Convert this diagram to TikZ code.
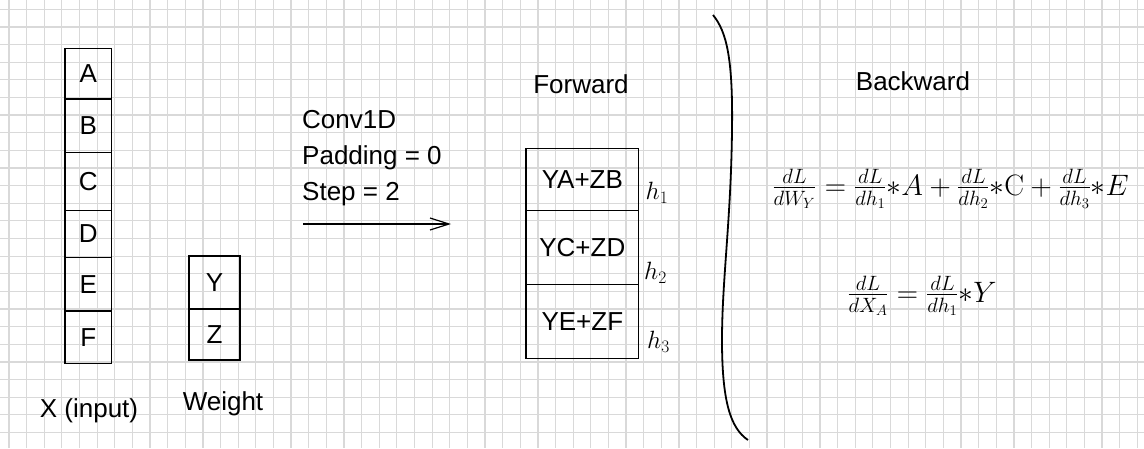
\RequirePackage{fix-cm}
\documentclass[tikz,border=0pt]{standalone}
\usepackage{amsmath}
\usepackage[no-math]{fontspec}
\setmainfont{Liberation Sans}
\DeclareMathSizes{29.5}{29.5}{20.7}{14.8}
\DeclareMathSizes{25}{25}{17.5}{12.5}
\usetikzlibrary{positioning,arrows.meta}

\begin{document}
\begin{tikzpicture}[x=1pt,y=-1pt,>={Straight Barb[length=19pt,width=12pt]},
  gridline/.style={gray!30,line width=1.2pt},
  cell/.style={draw,line width=1.4pt,inner sep=0pt,font=\fontsize{26}{31}\selectfont},
  txt/.style={font=\fontsize{26}{31}\selectfont,inner sep=0pt,anchor=base},
  hlab/.style={font=\fontsize{25}{30}\selectfont,inner sep=0pt},
  mth/.style={font=\fontsize{29.5}{35}\selectfont,inner sep=0pt}]
\useasboundingbox (0,0) rectangle (1144,448);
\fill[white] (0,0) rectangle (1144,448);
% grid paper
\foreach \i in {0,...,64}
  \draw[gridline] ({9+17.63*\i},0) -- ({9+17.63*\i},448);
\foreach \j in {0,...,24}
  \draw[gridline] (0,{9.3+17.63*\j}) -- (1144,{9.3+17.63*\j});

% input column
\node[cell,minimum width=46.7pt,minimum height=50.7pt] (xa) at (88.3,73.65) {A};
\node[cell,minimum width=46.7pt,minimum height=53.3pt] (xb) at (88.3,125.65) {B};
\node[cell,minimum width=46.7pt,minimum height=58pt] (xc) at (88.3,181.3) {C};
\node[cell,minimum width=46.7pt,minimum height=47.4pt] (xd) at (88.3,234) {D};
\node[cell,minimum width=46.7pt,minimum height=53.3pt] (xe) at (88.3,284.35) {E};
\node[cell,minimum width=46.7pt,minimum height=52.3pt] (xf) at (88.3,337.15) {F};
\node[txt] (xlab) at (89,417) {X (input)};

% weight
\node[cell,minimum width=51pt,minimum height=53pt] (wy) at (214.5,282.5) {Y};
\node[cell,minimum width=51pt,minimum height=51pt] (wz) at (214.5,334.5) {Z};
\node[txt] (wlab) at (223,410) {Weight};

% conv settings
\node[txt,anchor=base west] (conv) at (302,128) {Conv1D};
\node[txt,anchor=base west] (pad) at (302,164) {Padding = 0};
\node[txt,anchor=base west] (stp) at (302,200) {Step = 2};
\coordinate (a0) at (303,224);
\coordinate (a1) at (451,224);
\draw[->,line width=1.2pt] (a0) -- (a1);

% forward
\node[txt] (fwd) at (581,93) {Forward};
\node[cell,minimum width=112.7pt,minimum height=62pt] (h1c) at (582.35,179.3) {YA+ZB};
\node[cell,minimum width=112.7pt,minimum height=74pt] (h2c) at (582.35,247.3) {YC+ZD};
\node[cell,minimum width=112.7pt,minimum height=74pt] (h3c) at (582.35,321.3) {YE+ZF};
\node[hlab] (h1) at (657,193) {$h_1$};
\node[hlab] (h2) at (655.5,273) {$h_2$};
\node[hlab] (h3) at (658.5,341.7) {$h_3$};

% separator
\draw[line width=1.8pt] (713,15) .. controls (727,32) and (733,60) .. (732,130)
  .. controls (731,220) and (722,280) .. (722,340)
  .. controls (722,400) and (730,428) .. (748,440);

% backward
\node[txt] (bwd) at (913,90) {Backward};
\node[mth] (eqw) at (950.5,189) {$\frac{dL}{dW_Y} = \frac{dL}{dh_1}{\ast}A + \frac{dL}{dh_2}{\ast}\mathrm{C} + \frac{dL}{dh_3}{\ast}E$};
\node[mth] (eqx) at (922,296) {$\frac{dL}{dX_A} = \frac{dL}{dh_1}{\ast}Y$};
\end{tikzpicture}
\end{document}
